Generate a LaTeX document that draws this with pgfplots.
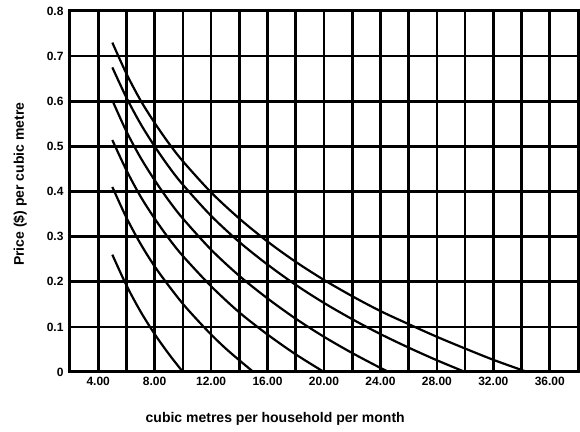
\documentclass[border=0pt]{standalone}
\usepackage{fontspec}
\setmainfont{Liberation Sans}
\usepackage{pgfplots}
\pgfplotsset{compat=1.18}
\begin{document}
\begin{tikzpicture}
\begin{axis}[
  name=ax,
  scale only axis,
  width=508pt, height=361pt,
  xmin=2, xmax=38, ymin=0, ymax=0.8,
  xtick={4,8,12,16,20,24,28,32,36},
  xticklabels={4.00,8.00,12.00,16.00,20.00,24.00,28.00,32.00,36.00},
  minor xtick={6,10,14,18,22,26,30,34},
  ytick={0,0.1,0.2,0.3,0.4,0.5,0.6,0.7,0.8},
  yticklabels={0,0.1,0.2,0.3,0.4,0.5,0.6,0.7,0.8},
  grid=both,
  major grid style={black, line width=2.6pt},
  minor grid style={black, line width=2.6pt},
  axis line style={black, line width=3pt},
  major tick length=0pt, minor tick length=0pt,
  tick label style={font=\bfseries\fontsize{12}{14}\selectfont},
  xticklabel style={yshift=-2pt},
  yticklabel style={xshift=-3pt},
  every axis x label/.style={at={(axis description cs:0.404,-0.13)}, anchor=center},
  every axis y label/.style={at={(axis description cs:-0.098,0.52)}, rotate=90, anchor=center},
  label style={font=\bfseries\fontsize{14}{16}\selectfont},
  xlabel={cubic metres per household per month},
  ylabel={Price (\$) per cubic metre},
]
% curve 1
\addplot[black, line width=2.2pt, smooth] coordinates {
(5,0.730) (6,0.661) (7,0.602) (8,0.552) (9,0.507) (10,0.467) (12,0.398) (14,0.340)
(16,0.289) (18,0.244) (20,0.204) (22,0.168) (24,0.135) (26,0.106) (28,0.078)
(30,0.052) (32,0.027) (34.4,0)};
% curve 2
\addplot[black, line width=2.2pt, smooth] coordinates {
(5,0.675) (6,0.608) (7,0.550) (8,0.500) (9,0.455) (10,0.415) (12,0.346) (14,0.288)
(16,0.238) (18,0.193) (20,0.153) (22,0.117) (24,0.084) (26,0.054) (28,0.026) (30,0)};
% curve 3
\addplot[black, line width=2.2pt, smooth] coordinates {
(5,0.602) (6,0.533) (7,0.475) (8,0.425) (9,0.380) (10,0.340) (12,0.271) (14,0.213)
(16,0.163) (18,0.118) (20,0.078) (22,0.042) (24,0.009) (24.6,0)};
% curve 4
\addplot[black, line width=2.2pt, smooth] coordinates {
(5,0.514) (6,0.447) (7,0.389) (8,0.340) (9,0.296) (10,0.257) (12,0.190) (14,0.132)
(16,0.083) (18,0.039) (20,0)};
% curve 5
\addplot[black, line width=2.2pt, smooth] coordinates {
(5,0.410) (6,0.342) (7,0.284) (8,0.234) (9,0.191) (10,0.151) (11,0.116) (12,0.083)
(13,0.053) (14,0.026) (15,0)};
% curve 6
\addplot[black, line width=2.2pt, smooth] coordinates {
(5,0.260) (6,0.192) (7,0.134) (8,0.084) (9,0.040) (10,0)};
\end{axis}
\pgfresetboundingbox
\path ([shift={(-70pt,-60pt)}]ax.south west) rectangle ([shift={(2pt,11pt)}]ax.north east);
\end{tikzpicture}
\end{document}
